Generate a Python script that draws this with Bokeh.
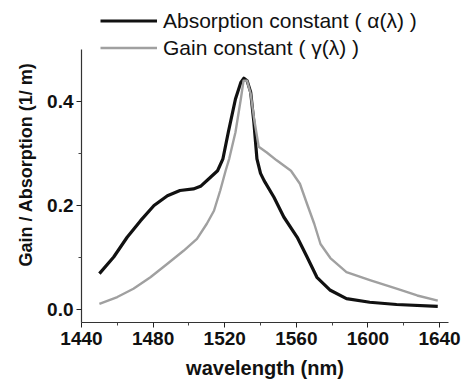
from bokeh.plotting import figure
from bokeh.models import (Range1d, FixedTicker, NumeralTickFormatter,
                          Legend, LegendItem)
from bokeh.embed import file_html
from bokeh.resources import INLINE

# ---- data ----
wl_abs = [1450, 1458, 1465.5, 1473, 1480.5, 1488, 1495, 1502.5, 1506.5, 1511,
          1516, 1519, 1522, 1526, 1529, 1530.7, 1532.5, 1534.5, 1536.3, 1538,
          1540, 1542, 1547.5, 1553, 1560.5, 1566, 1571.5, 1579, 1588, 1601,
          1616, 1639]
alpha = [0.069, 0.101, 0.139, 0.171, 0.200, 0.219, 0.229, 0.232, 0.237, 0.251,
         0.267, 0.290, 0.341, 0.405, 0.437, 0.445, 0.440, 0.418, 0.360, 0.290,
         0.262, 0.248, 0.216, 0.178, 0.139, 0.101, 0.062, 0.037, 0.021, 0.014,
         0.0096, 0.006]

wl_gain = [1450, 1460, 1469, 1478.5, 1488, 1497, 1504.5, 1510, 1514, 1517.5,
           1520.5, 1522.5, 1526, 1529, 1530.5, 1532.5, 1534.5, 1536.5, 1539,
           1543.5, 1549, 1557, 1562, 1566, 1570, 1573.5, 1579, 1588, 1601.5,
           1616, 1627.5, 1639]
gamma = [0.011, 0.024, 0.040, 0.062, 0.088, 0.113, 0.136, 0.165, 0.190, 0.229,
         0.267, 0.290, 0.341, 0.405, 0.440, 0.440, 0.415, 0.365, 0.313,
         0.302, 0.287, 0.267, 0.242, 0.203, 0.165, 0.126, 0.099, 0.072, 0.056,
         0.040, 0.027, 0.017]

x_ticks = [1440, 1480, 1520, 1560, 1600, 1640]
x_minor = [1460, 1500, 1540, 1580, 1620]
y_ticks = [0.0, 0.2, 0.4]
y_minor = [0.1, 0.3]

label_abs = "Absorption constant ( \u03b1(\u03bb) )"
label_gain = "Gain constant ( \u03b3(\u03bb) )"
x_title = "wavelength (nm)"
y_title = "Gain / Absorption (1/ m)"

FONT = "Liberation Sans"

# the frame reaches almost to the top of the page so that the legend above
# the axes is not clipped; the y axis line itself is bounded to -0.025 .. 0.5
p = figure(width=466, height=381, output_backend="svg", toolbar_location=None,
           x_range=Range1d(1440, 1645), y_range=Range1d(-0.025, 0.583),
           min_border_left=81, min_border_right=18, min_border_top=6,
           min_border_bottom=59)
p.outline_line_color = None
p.xgrid.grid_line_color = None
p.ygrid.grid_line_color = None
p.background_fill_color = "white"
p.border_fill_color = "white"

r_abs = p.line(wl_abs, alpha, line_color="#111111", line_width=3.2,
               line_join="round")
r_gain = p.line(wl_gain, gamma, line_color="#a0a0a0", line_width=2.4,
                line_join="round")

for ax in (p.xaxis[0], p.yaxis[0]):
    ax.axis_line_color = "#333333"
    ax.axis_line_width = 1.2
    ax.major_tick_line_color = "#222222"
    ax.minor_tick_line_color = "#444444"
    ax.major_tick_in = 0
    ax.major_tick_out = 5
    ax.minor_tick_in = 0
    ax.minor_tick_out = 3
    ax.major_label_text_font = FONT
    ax.major_label_text_font_style = "bold"
    ax.major_label_text_font_size = "19px"
    ax.major_label_text_color = "#111111"
    ax.axis_label_text_font = FONT
    ax.axis_label_text_font_style = "bold"
    ax.axis_label_text_color = "#111111"

p.xaxis.ticker = FixedTicker(ticks=x_ticks, minor_ticks=x_minor)
p.yaxis.ticker = FixedTicker(ticks=y_ticks, minor_ticks=y_minor)
p.yaxis.formatter = NumeralTickFormatter(format="0.0")
p.yaxis.bounds = (-0.025, 0.5)
p.xaxis.major_label_standoff = 4
p.yaxis.major_label_standoff = 3

p.xaxis.axis_label = x_title
p.xaxis.axis_label_text_font_size = "20px"
p.xaxis.axis_label_standoff = 9

p.yaxis.axis_label = y_title
p.yaxis.axis_label_text_font_size = "18px"
p.yaxis.axis_label_standoff = 8

legend = Legend(items=[LegendItem(label=label_abs, renderers=[r_abs]),
                       LegendItem(label=label_gain, renderers=[r_gain])],
                location=(19, 261), orientation="vertical",
                glyph_width=57, glyph_height=27, label_height=27,
                label_width=20, spacing=0, padding=0, margin=0,
                label_standoff=6, border_line_color=None,
                background_fill_alpha=0, label_text_font=FONT,
                label_text_font_size="21px", label_text_color="#111111",
                label_text_baseline="middle")
p.add_layout(legend)

open("out.html", "w").write(file_html(p, INLINE))
